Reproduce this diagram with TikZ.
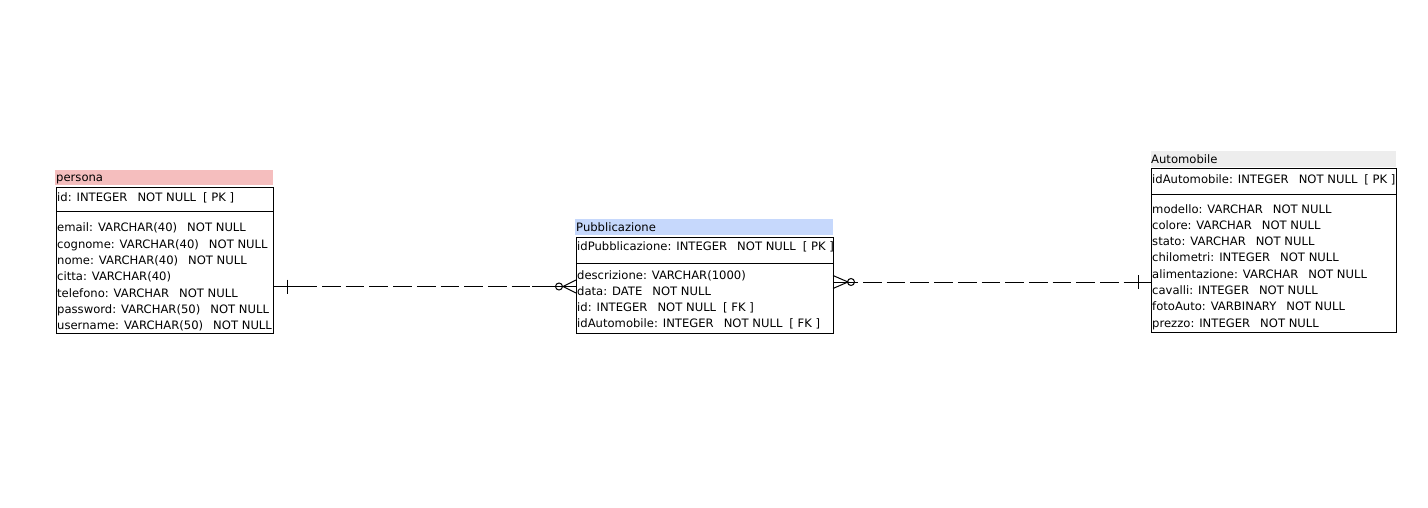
\documentclass[tikz,border=0pt]{standalone}
\usepackage{fontspec}
\setmainfont{DejaVu Sans}
\usetikzlibrary{calc}
\definecolor{hdrpink}{RGB}{245,190,190}
\definecolor{hdrblue}{RGB}{198,216,252}
\definecolor{hdrgray}{RGB}{237,237,237}
\newcommand\gapA{\hspace{10pt}}
\newcommand\gapB{\hspace{7pt}}
\begin{document}
\begin{tikzpicture}[x=1pt,y=-1pt,
  txt/.style={anchor=base west, inner sep=0pt, font=\fontsize{11.6}{13}\selectfont},
  tbox/.style={draw, line width=1pt, inner sep=0pt, outer sep=0pt, anchor=north west},
  hdr/.style={inner sep=0pt, outer sep=0pt, anchor=north west},
  rel/.style={line width=1pt},
  reldash/.style={line width=1pt, dash pattern=on 18.7pt off 5pt, dash phase=18.7pt}]
\useasboundingbox (0,0) rectangle (1428,508);

% ---------- persona ----------
\node[hdr, fill=hdrpink, minimum width=218pt, minimum height=15pt] (personaH) at (55,170) {};
\node[txt] (personaT) at (56,181.5) {persona};
\node[tbox, minimum width=217pt, minimum height=145pt] (persona) at (56,188) {};
\draw[rel] (persona.west |- 0,212) -- (persona.east |- 0,212);
\node[txt] (personaPK) at (57,202) {id: INTEGER\gapA NOT NULL\gapB [ PK ]};
\foreach \t [count=\i] in {
  {email: VARCHAR(40)\gapA NOT NULL},
  {cognome: VARCHAR(40)\gapA NOT NULL},
  {nome: VARCHAR(40)\gapA NOT NULL},
  {citta: VARCHAR(40)},
  {telefono: VARCHAR\gapA NOT NULL},
  {password: VARCHAR(50)\gapA NOT NULL},
  {username: VARCHAR(50)\gapA NOT NULL}}
  \node[txt] (pr\i) at (57,{232+16.33*(\i-1)}) {\t};

% ---------- Pubblicazione ----------
\node[hdr, fill=hdrblue, minimum width=258pt, minimum height=16pt] (pubH) at (575,219) {};
\node[txt] (pubT) at (576,231.5) {Pubblicazione};
\node[tbox, minimum width=257pt, minimum height=96pt] (pub) at (576,237) {};
\draw[rel] (pub.west |- 0,263) -- (pub.east |- 0,263);
\node[txt] (pubPK) at (577,250) {idPubblicazione: INTEGER\gapA NOT NULL\gapB [ PK ]};
\foreach \t [count=\i] in {
  {descrizione: VARCHAR(1000)},
  {data: DATE\gapA NOT NULL},
  {id: INTEGER\gapA NOT NULL\gapB [ FK ]},
  {idAutomobile: INTEGER\gapA NOT NULL\gapB [ FK ]}}
  \node[txt] (ur\i) at (577,{279+16.33*(\i-1)}) {\t};

% ---------- Automobile ----------
\node[hdr, fill=hdrgray, minimum width=245pt, minimum height=16pt] (autoH) at (1151,151.5) {};
\node[txt] (autoT) at (1151,163.5) {Automobile};
\node[tbox, minimum width=245pt, minimum height=163pt] (auto) at (1151,169) {};
\draw[rel] (auto.west |- 0,195) -- (auto.east |- 0,195);
\node[txt] (autoPK) at (1152,184) {idAutomobile: INTEGER\gapA NOT NULL\gapB [ PK ]};
\foreach \t [count=\i] in {
  {modello: VARCHAR\gapA NOT NULL},
  {colore: VARCHAR\gapA NOT NULL},
  {stato: VARCHAR\gapA NOT NULL},
  {chilometri: INTEGER\gapA NOT NULL},
  {alimentazione: VARCHAR\gapA NOT NULL},
  {cavalli: INTEGER\gapA NOT NULL},
  {fotoAuto: VARBINARY\gapA NOT NULL},
  {prezzo: INTEGER\gapA NOT NULL}}
  \node[txt] (ar\i) at (1152,{213+16.3*(\i-1)}) {\t};

% ---------- persona -- Pubblicazione ----------
\coordinate (c1a) at (persona.east |- 0,286.5);
\coordinate (c1b) at (pub.west |- 0,286.5);
\draw[rel] (c1a) -- ($(c1a)+(44,0)$);
\draw[rel] ($(c1a)+(14,-7)$) -- ($(c1a)+(14,7)$);
\draw[reldash] ($(c1a)+(44,0)$) -- ($(c1b)+(-44,0)$);
\draw[rel] ($(c1b)+(-44,0)$) -- (c1b);
\draw[rel] ($(c1b)+(-17,0)$) circle (3.5pt);
\draw[rel] ($(c1b)+(0,-6.5)$) -- ($(c1b)+(-13,0)$) -- ($(c1b)+(0,6.5)$);

% ---------- Pubblicazione -- Automobile ----------
\coordinate (c2a) at (pub.east |- 0,282);
\coordinate (c2b) at (auto.west |- 0,282);
\draw[rel] ($(c2a)+(0,-6.5)$) -- ($(c2a)+(15,0)$) -- ($(c2a)+(0,6.5)$);
\draw[rel] ($(c2a)+(18,0)$) circle (3.5pt);
\draw[rel] (c2a) -- ($(c2a)+(25,0)$);
\draw[reldash] ($(c2a)+(25,0)$) -- ($(c2b)+(-25,0)$);
\draw[rel] ($(c2b)+(-25,0)$) -- (c2b);
\draw[rel] ($(c2b)+(-13,-7)$) -- ($(c2b)+(-13,7)$);
\end{tikzpicture}
\end{document}
